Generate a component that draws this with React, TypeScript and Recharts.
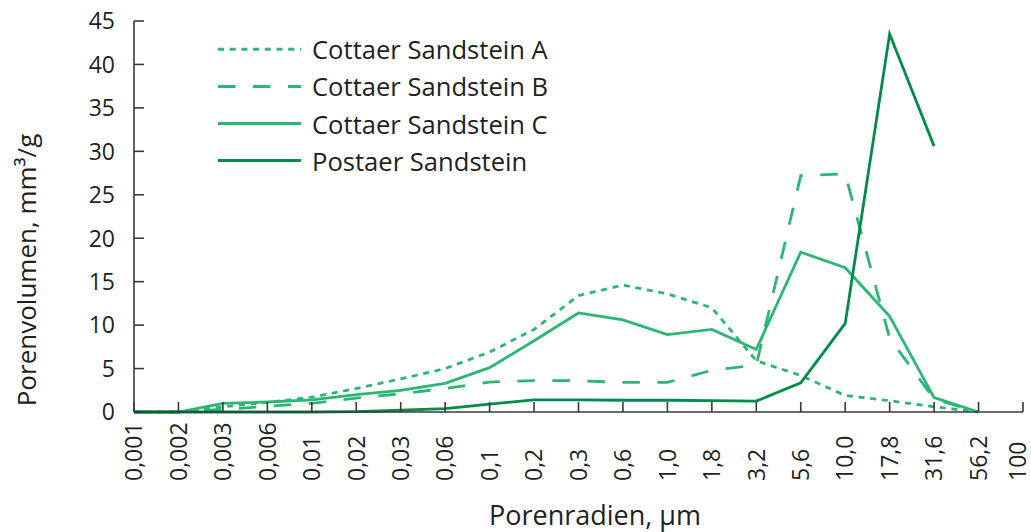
import React from 'react';
import { LineChart, Line, XAxis, YAxis, Legend } from 'recharts';

const categories = ['0,001','0,002','0,003','0,006','0,01','0,02','0,03','0,06','0,1','0,2','0,3','0,6','1,0','1,8','3,2','5,6','10,0','17,8','31,6','56,2','100'];
const cottaerA = [0, 0, 0.6, 1.1, 1.7, 2.7, 3.8, 5.0, 6.9, 9.5, 13.4, 14.6, 13.6, 12.0, 5.9, 4.2, 1.9, 1.3, 0.6, 0, null];
const cottaerB = [0, 0, 0.3, 0.65, 1.0, 1.6, 2.1, 2.7, 3.45, 3.6, 3.6, 3.4, 3.4, 4.8, 5.4, 27.2, 27.4, 8.5, 1.5, 0, null];
const cottaerC = [0, 0, 1.0, 1.15, 1.4, 2.0, 2.5, 3.3, 5.1, 8.2, 11.4, 10.6, 8.9, 9.5, 7.2, 18.4, 16.6, 11.0, 1.65, 0, null];
const postaer = [0, 0, 0, 0, 0, 0.05, 0.2, 0.4, 0.9, 1.4, 1.4, 1.35, 1.35, 1.3, 1.25, 3.35, 10.2, 43.5, 30.6, null, null];
const yTicks = [0, 5, 10, 15, 20, 25, 30, 35, 40, 45];
const seriesNames = ['Cottaer Sandstein A', 'Cottaer Sandstein B', 'Cottaer Sandstein C', 'Postaer Sandstein'];

const LIGHT = '#2bb673';
const DARK = '#008c48';
const TEXT = '#231f20';
const AXIS = '#3a3a3a';
const FONT = '"Open Sans", "Noto Sans", sans-serif';
const CHART_W = 1031;
const CHART_H = 532;

const data = categories.map((c, i) => ({
  cat: c,
  a: cottaerA[i],
  b: cottaerB[i],
  c: cottaerC[i],
  p: postaer[i],
}));

const seriesStyles = [
  { key: 'a', color: LIGHT, dash: '6 5.7' },
  { key: 'b', color: LIGHT, dash: '17.5 17.5' },
  { key: 'c', color: LIGHT, dash: undefined },
  { key: 'p', color: DARK, dash: undefined },
];

const XTick = (props: any) => {
  const { x, y, payload } = props;
  const cx = Math.min(x, CHART_W - 13);
  return (
    <text
      x={cx}
      y={y}
      transform={`rotate(-90, ${cx}, ${y})`}
      textAnchor="start"
      dy="0.36em"
      fontSize={23}
      fontFamily={FONT}
      fill={TEXT}
    >
      {payload.value}
    </text>
  );
};

const YTick = (props: any) => {
  const { x, y, payload } = props;
  return (
    <text x={x} y={y} textAnchor="end" dy="0.36em" fontSize={23} fontFamily={FONT} fill={TEXT}>
      {payload.value}
    </text>
  );
};

const LegendContent = () => (
  <svg width={380} height={150} style={{ overflow: 'visible' }}>
    {seriesNames.map((name, i) => {
      const ly = 19.3 + i * 37.1;
      const s = seriesStyles[i];
      return (
        <g key={name}>
          <line x1={8} x2={91} y1={ly} y2={ly} stroke={s.color} strokeWidth={3} strokeDasharray={s.dash} />
          <text x={102} y={ly + 10} fontSize={25.6} fontFamily={FONT} fill={TEXT}>
            {name}
          </text>
        </g>
      );
    })}
  </svg>
);

export default function App() {
  return (
    <div style={{ width: CHART_W, height: CHART_H, background: '#fff' }}>
      <style>{'body{margin:0;background:#fff}'}</style>
      <LineChart width={CHART_W} height={CHART_H} data={data} margin={{ top: 21, right: 8, left: 0, bottom: 0 }}>
        <XAxis
          dataKey="cat"
          height={120}
          interval={0}
          stroke={AXIS}
          strokeWidth={1.6}
          tickSize={-10}
          tickMargin={79}
          tick={<XTick />}
          label={{
            content: () => (
              <text x={595} y={525} textAnchor="middle" fontSize={27} fontFamily={FONT} fill={TEXT}>
                Porenradien, µm
              </text>
            ),
          }}
        />
        <XAxis xAxisId="top" orientation="top" dataKey="cat" height={0} tick={false} tickLine={false} stroke={AXIS} strokeWidth={1.6} />
        <YAxis
          width={134}
          domain={[0, 45]}
          ticks={yTicks}
          interval={0}
          stroke={AXIS}
          strokeWidth={1.6}
          tickSize={-10}
          tickMargin={29}
          tick={<YTick />}
          label={{
            content: () => (
              <text
                x={36}
                y={270}
                transform="rotate(-90, 36, 270)"
                textAnchor="middle"
                fontSize={26}
                fontFamily={FONT}
                fill={TEXT}
              >
                Porenvolumen, mm³/g
              </text>
            ),
          }}
        />
        <YAxis yAxisId="right" orientation="right" width={0} tick={false} tickLine={false} stroke={AXIS} strokeWidth={1.6} />
        <Legend
          layout="vertical"
          align="center"
          verticalAlign="middle"
          content={<LegendContent />}
          wrapperStyle={{ position: 'absolute', left: 210, top: 30, width: 380, height: 150 }}
        />
        {seriesStyles.map((s, i) => (
          <Line
            key={s.key}
            type="linear"
            dataKey={s.key}
            name={seriesNames[i]}
            stroke={s.color}
            strokeWidth={2.8}
            strokeDasharray={s.dash}
            dot={false}
            activeDot={false}
            isAnimationActive={false}
          />
        ))}
      </LineChart>
    </div>
  );
}
